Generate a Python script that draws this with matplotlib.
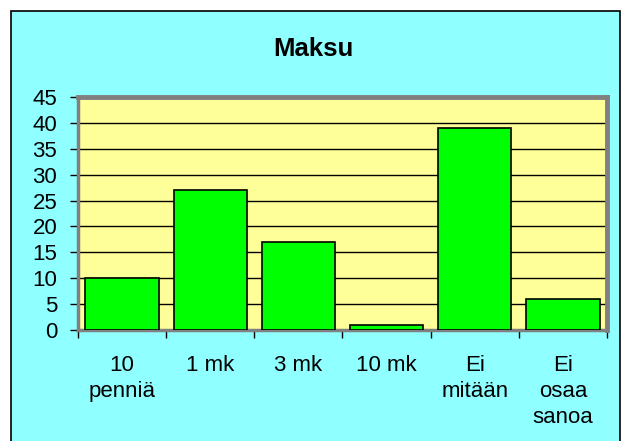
import matplotlib
matplotlib.use("Agg")
import matplotlib.pyplot as plt
from matplotlib.patches import Rectangle
import numpy as np

categories = ["10\npenniä", "1 mk", "3 mk", "10 mk", "Ei\nmitään", "Ei\nosaa\nsanoa"]
values = [10, 27, 17, 1, 39, 6]
yticks = [0, 5, 10, 15, 20, 25, 30, 35, 40, 45]
title = "Maksu"

plt.rcParams['font.family'] = ['Liberation Sans', 'DejaVu Sans']

W, H = 627, 441
fig = plt.figure(figsize=(W / 100, H / 100), dpi=100)
fig.patch.set_facecolor('white')

# chart area background with black border (drawn in a background axes)
bgax = fig.add_axes([0, 0, 1, 1], zorder=-10)
bgax.set_xlim(0, W)
bgax.set_ylim(H, 0)
bgax.axis('off')
bgax.add_patch(Rectangle((11, 11), 620 - 11, H + 20, facecolor='#8FFFFF',
                         edgecolor='black', linewidth=1.2))

ax = fig.add_axes([78 / W, 1 - 330 / H, (607 - 78) / W, (330 - 97) / H])
ax.set_facecolor('#FFFF99')

x = np.arange(len(categories))
ax.bar(x, values, width=0.83, color='#00FF00', edgecolor='black',
       linewidth=1.2, zorder=3)

ax.set_xlim(-0.5, len(categories) - 0.5)
ax.set_ylim(0, 45)
ax.set_yticks(yticks)
ax.set_yticklabels([str(v) for v in yticks], fontsize=16)
ax.yaxis.grid(True, color='black', linewidth=1.0, zorder=1)
ax.set_axisbelow(True)

ax.set_xticks(x)
ax.set_xticklabels(categories, fontsize=16, linespacing=1.3, va='top')
ax.tick_params(axis='x', which='major', length=0, pad=18)
ax.set_xticks(np.arange(-0.5, len(categories)), minor=True)
ax.tick_params(axis='x', which='minor', length=6, width=1, color='black',
               direction='out')
ax.tick_params(axis='y', length=6, width=1, color='black', direction='out', pad=9)

for side in ['top', 'right']:
    ax.spines[side].set_color('#808080')
    ax.spines[side].set_linewidth(3.5)
for side in ['left', 'bottom']:
    ax.spines[side].set_color('#808080')
    ax.spines[side].set_linewidth(2.5)

fig.text(313 / W, 1 - 49 / H, title, fontsize=18.5, fontweight='bold',
         ha='center', va='center')

fig.savefig('out.png', dpi=100, facecolor=fig.get_facecolor())
